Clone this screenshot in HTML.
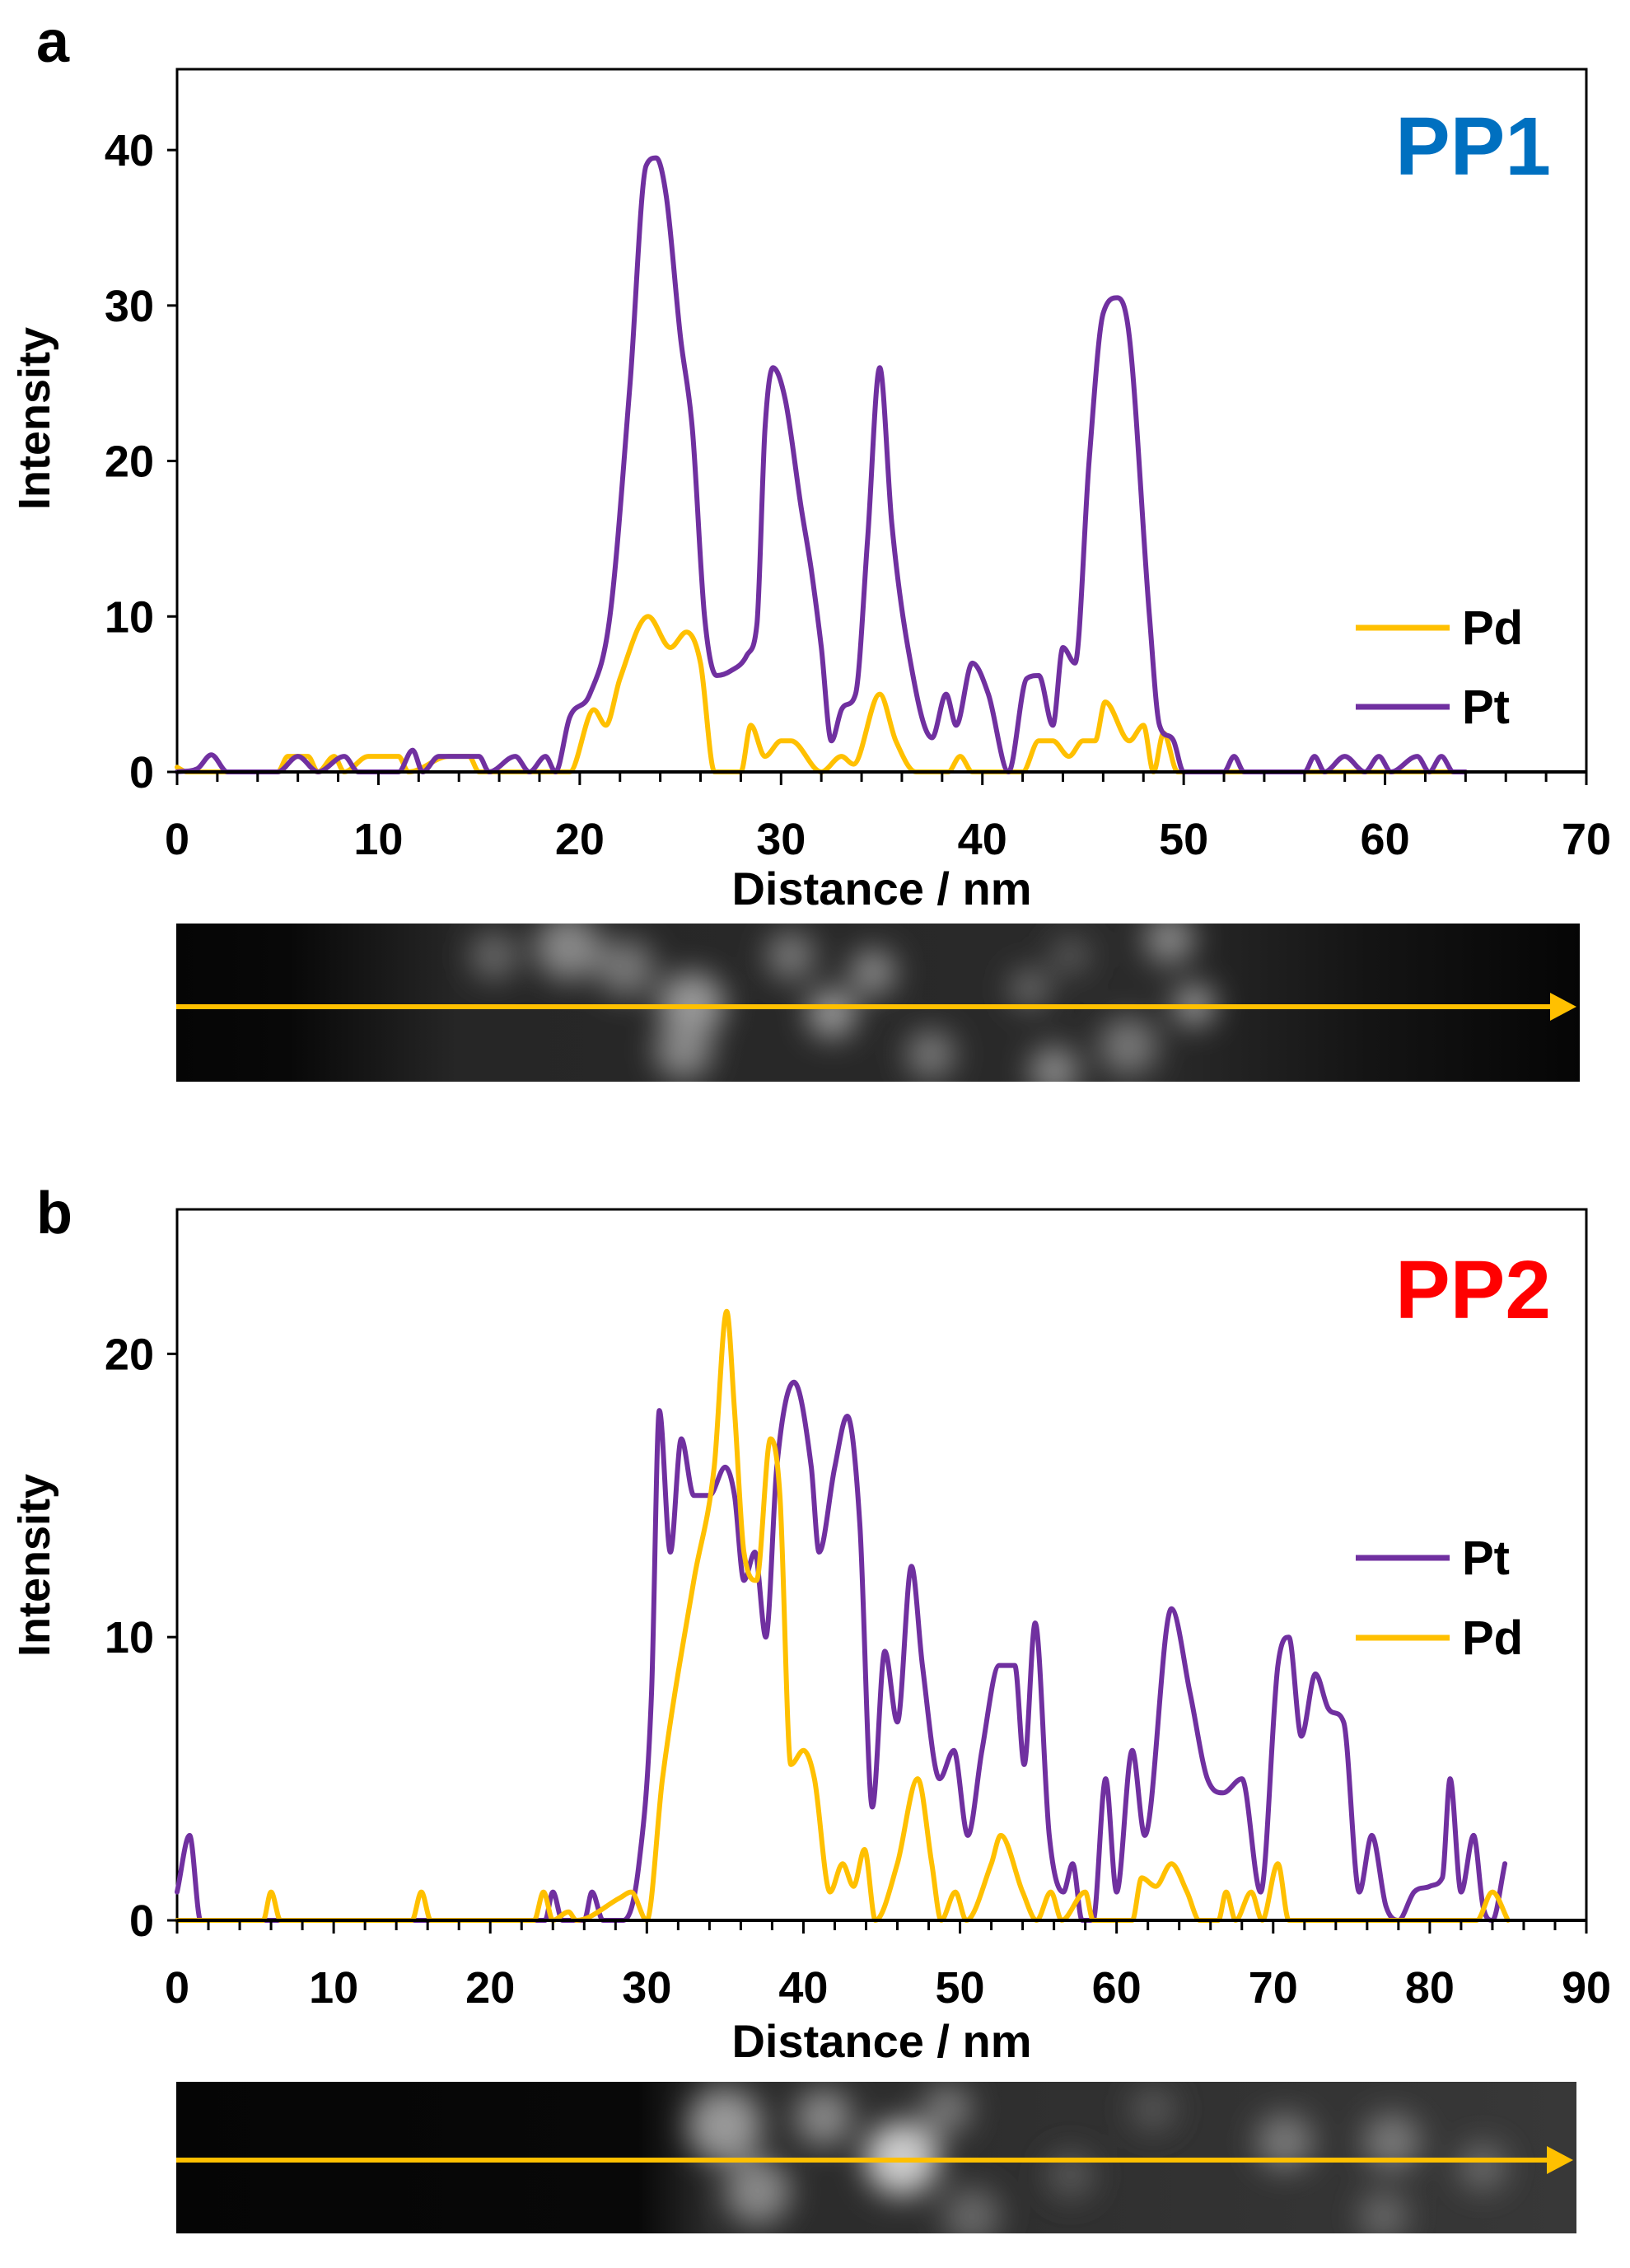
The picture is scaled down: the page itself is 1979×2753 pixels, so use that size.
<!DOCTYPE html>
<html><head><meta charset="utf-8"><style>
html,body{margin:0;padding:0;background:#fff;}
svg{display:block;}
text{font-family:"Liberation Sans Narrow","Liberation Sans",sans-serif;font-weight:bold;fill:#000;}
</style></head><body>
<svg id="s" width="1979" height="2753" viewBox="0 0 1979 2753" xmlns="http://www.w3.org/2000/svg">
<defs>
<filter id="bl" x="-50%" y="-50%" width="200%" height="200%"><feGaussianBlur stdDeviation="18"/></filter>
<linearGradient id="ga" x1="0" x2="1"><stop offset="0" stop-color="#050505"/><stop offset="0.08" stop-color="#080808"/><stop offset="0.2" stop-color="#262626"/><stop offset="0.7" stop-color="#2a2a2a"/><stop offset="0.85" stop-color="#141414"/><stop offset="1" stop-color="#050505"/></linearGradient>
<linearGradient id="gb" x1="0" x2="1"><stop offset="0" stop-color="#050505"/><stop offset="0.33" stop-color="#080808"/><stop offset="0.38" stop-color="#2a2a2a"/><stop offset="1" stop-color="#383838"/></linearGradient>
<clipPath id="ca"><rect x="214" y="1121" width="1704" height="192"/></clipPath>
<clipPath id="cb"><rect x="214" y="2527" width="1700" height="184"/></clipPath>
</defs>
<g id="g"></g>
</svg>
<script>
const NS="http://www.w3.org/2000/svg";
const G=document.getElementById('g');
function el(t,a,txt,p){const e=document.createElementNS(NS,t);for(const k in a)e.setAttribute(k,a[k]);if(txt!==undefined)e.textContent=txt;(p||G).appendChild(e);return e;}
function smooth(P){
 const n=P.length,m=[],t=[];
 for(let i=0;i<n-1;i++)m.push((P[i+1][1]-P[i][1])/(P[i+1][0]-P[i][0]));
 for(let i=0;i<n;i++){
  if(i==0)t.push(m[0]);else if(i==n-1)t.push(m[n-2]);
  else{const a=m[i-1],b=m[i];if(a*b<=0)t.push(0);else{let v=(a+b)/2;const lim=3*Math.min(Math.abs(a),Math.abs(b));if(Math.abs(v)>lim)v=Math.sign(v)*lim;t.push(v);}}
 }
 let d='M'+P[0][0].toFixed(1)+' '+P[0][1].toFixed(1);
 for(let i=0;i<n-1;i++){const dx=(P[i+1][0]-P[i][0])/3;
  d+=`C${(P[i][0]+dx).toFixed(1)} ${(P[i][1]+t[i]*dx).toFixed(1)} ${(P[i+1][0]-dx).toFixed(1)} ${(P[i+1][1]-t[i+1]*dx).toFixed(1)} ${P[i+1][0].toFixed(1)} ${P[i+1][1].toFixed(1)}`;}
 return d;}
function panel(o){
 const {x0,x1,y0,yTop,xmax,ymax,ystep,series,leg,lbl,lblY,ttl,ttlCol,ttlY,tickLblY,titleY,ycen}=o;
 const X=v=>x0+(x1-x0)*v/xmax, Y=v=>y0-(y0-yTop)*v/ymax;
 el('rect',{x:x0,y:yTop,width:x1-x0,height:y0-yTop,fill:'none',stroke:'#000','stroke-width':3});
 for(const s of series){
  const P=[];for(let i=0;i<s.d.length;i+=2)P.push([X(s.d[i]),Y(s.d[i+1])]);
  el('path',{d:smooth(P),fill:'none',stroke:s.c,'stroke-width':6,'stroke-linejoin':'round','stroke-linecap':'round'});
 }
 el('line',{x1:x0,y1:y0,x2:x1,y2:y0,stroke:'#000','stroke-width':4});
 for(let v=0;v<=xmax;v+=2){const big=v%10==0;el('line',{x1:X(v),y1:y0,x2:X(v),y2:y0+(big?16:12),stroke:'#000','stroke-width':3});}
 for(let v=0;v<=xmax;v+=10)el('text',{x:X(v),y:tickLblY,'font-size':54,'text-anchor':'middle'},v);
 for(let v=0;v<=ymax;v+=ystep){el('line',{x1:x0-12,y1:Y(v),x2:x0,y2:Y(v),stroke:'#000','stroke-width':3});
  el('text',{x:x0-28,y:Y(v)+19,'font-size':54,'text-anchor':'end'},v);}
 el('text',{x:(x0+x1)/2,y:titleY,'font-size':56,'text-anchor':'middle'},'Distance / nm');
 el('text',{x:0,y:0,'font-size':54,'text-anchor':'middle',transform:`translate(60 ${ycen}) rotate(-90)`},'Intensity');
 el('text',{x:44,y:lblY,'font-size':72,'font-family':'Liberation Sans'},lbl);
 el('text',{x:1883,y:ttlY,'font-size':100,'text-anchor':'end',style:'fill:'+ttlCol,'font-family':'Liberation Sans'},ttl);
 for(const l of leg){el('line',{x1:1646,y1:l.y,x2:1760,y2:l.y,stroke:l.c,'stroke-width':7});
  el('text',{x:1775,y:l.y+20,'font-size':58},l.t);}
}
const PU='#7030A0',PD='#FFC000';
const pta=[0,0,1,0.2,1.7,1.1,2.5,0,5,0,6,1,7,0,8.3,1,9,0,11,0,11.7,1.4,12.2,0,13,1,15,1,15.5,0,16.8,1,17.5,0,18.3,1,18.8,0,19.5,3.5,20.5,5,21.5,10,22.5,25,23.3,39,23.8,39.5,24.3,37,25,28,25.6,22,26.2,10,26.8,6.2,27.5,6.5,28.3,7.5,28.8,9.5,29.2,22,29.6,26,30.2,24,31,17,31.5,13,32,8,32.5,2,33,4,33.7,5,34.3,15,34.9,26,35.5,16,36.3,8,37.5,2.2,38.2,5,38.7,3,39.5,7,40.3,5,41.3,0,42.2,6,42.8,6.2,43.5,3,44,8,44.6,7,45.3,20,46,29.5,46.7,30.5,47.3,28,48.3,10,48.8,3,49.5,2,50,0,52,0,52.5,1,53,0,56,0,56.5,1,57,0,58,1,59,0,59.7,1,60.3,0,61.6,1,62.2,0,62.8,1,63.4,0,64,0];
const pda=[0,0.3,0.5,0,5,0,5.5,1,6.5,1,7,0,7.8,1,8.3,0,9.5,1,11,1,11.5,0,13.5,1,14.5,1,15,0,19.5,0,20.7,4,21.3,3,22,6,23.4,10,24.5,8,25.3,9,26,7,26.7,0,28,0,28.5,3,29.2,1,30,2,30.5,2,32,0,33,1,33.6,0.5,34.9,5,35.7,2,36.7,0,38.3,0,38.9,1,39.5,0,42,0,42.8,2,43.5,2,44.3,1,45,2,45.6,2,46.1,4.5,47.3,2,48,3,48.5,0,49,2.5,49.7,0,64,0];
const ptb=[0,1,0.8,3,1.5,0,23.5,0,24,1,24.6,0,26,0,26.5,1,27.2,0,28.5,0,29.5,2,30.3,8,30.8,18,31.5,13,32.2,17,33,15,34,15,35,16,35.6,15,36.2,12,36.9,13,37.6,10,38.3,16,39.4,19,40.5,16,41,13,42,16,42.8,17.8,43.6,14,44.4,4,45.2,9.5,46,7,46.9,12.5,47.6,9,48.7,5,49.6,6,50.5,3,51.4,6,52.5,9,53.5,9,54.1,5.5,54.8,10.5,55.7,3,56.6,1,57.2,2,57.8,0,58.5,0,59.3,5,60,1,61,6,61.8,3,63.5,11,64.7,8,65.8,5,66.8,4.5,68,5,69.2,1,70.3,9,71,10,71.8,6.5,72.7,8.7,73.5,7.5,74.5,7,75.5,1,76.3,3,77.2,0.5,78,0,79,1,80,1.2,80.8,1.5,81.3,5,82,1,82.8,3,83.4,0.5,84,0,84.8,2];
const pdb=[0,0,5.5,0,6,1,6.6,0,15,0,15.6,1,16.2,0,22.8,0,23.4,1,24,0,25,0.3,25.5,0,28.3,0.8,29,1,30,0,31,5,33,12,34.3,16,35.1,21.5,35.6,18,36.2,13,37,12,37.9,17,38.5,15,39.2,5.5,40,6,40.7,5,41.7,1,42.5,2,43.2,1.2,43.9,2.5,44.6,0,46,2,47.3,5,48.2,2,48.8,0,49.7,1,50.4,0,52,2,52.6,3,54,1,54.9,0,55.8,1,56.5,0,58,1,58.5,0,61,0,61.6,1.5,62.5,1.2,63.5,2,64.5,1,65.3,0,66.5,0,67,1,67.6,0,68.6,1,69.3,0,70.3,2,71,0,83,0,84,1,85,0];
panel({x0:215,x1:1926,y0:937,yTop:84,xmax:70,ymax:45.2,ystep:10,series:[{d:pda,c:PD},{d:pta,c:PU}],
 leg:[{y:762,c:PD,t:'Pd'},{y:858,c:PU,t:'Pt'}],lbl:'a',lblY:75,ttl:'PP1',ttlCol:'#0070C0',ttlY:212,tickLblY:1037,titleY:1098,ycen:508});
panel({x0:215,x1:1926,y0:2331,yTop:1468,xmax:90,ymax:25.1,ystep:10,series:[{d:ptb,c:PU},{d:pdb,c:PD}],
 leg:[{y:1891,c:PU,t:'Pt'},{y:1988,c:PD,t:'Pd'}],lbl:'b',lblY:1497,ttl:'PP2',ttlCol:'#FF0000',ttlY:1600,tickLblY:2431,titleY:2497,ycen:1900});
function img(x,y,w,h,grad,clip,blobs,ay){
 el('rect',{x:x,y:y,width:w,height:h,fill:`url(#${grad})`});
 const g=el('g',{'clip-path':`url(#${clip})`,filter:'url(#bl)'});
 for(const b of blobs)el('circle',{cx:b[0],cy:b[1],r:b[2],fill:b[3]},undefined,g);
 el('line',{x1:x,y1:ay,x2:x+w-30,y2:ay,stroke:PD,'stroke-width':6});
 el('polygon',{points:`${x+w-36},${ay-17} ${x+w-4},${ay} ${x+w-36},${ay+17}`,fill:PD});
}
img(214,1121,1704,192,'ga','ca',[[600,1160,30,'#666'],[690,1150,40,'#888'],[760,1175,35,'#777'],[840,1220,40,'#999'],[830,1275,35,'#888'],[960,1160,30,'#777'],[1010,1230,30,'#999'],[1060,1180,28,'#888'],[1130,1280,30,'#777'],[1250,1200,25,'#666'],[1280,1300,30,'#888'],[1370,1270,35,'#777'],[1420,1140,30,'#888'],[1450,1220,25,'#999'],[1300,1160,25,'#555']],1222);
img(214,2527,1700,184,'gb','cb',[[880,2580,45,'#999'],[920,2660,40,'#888'],[1000,2570,35,'#888'],[1095,2620,45,'#ccc'],[1150,2560,30,'#777'],[1180,2690,35,'#666'],[1300,2640,30,'#555'],[1400,2560,28,'#555'],[1560,2600,35,'#777'],[1690,2600,35,'#777'],[1680,2690,30,'#666'],[1800,2630,30,'#666']],2622);
</script>
</body></html>
